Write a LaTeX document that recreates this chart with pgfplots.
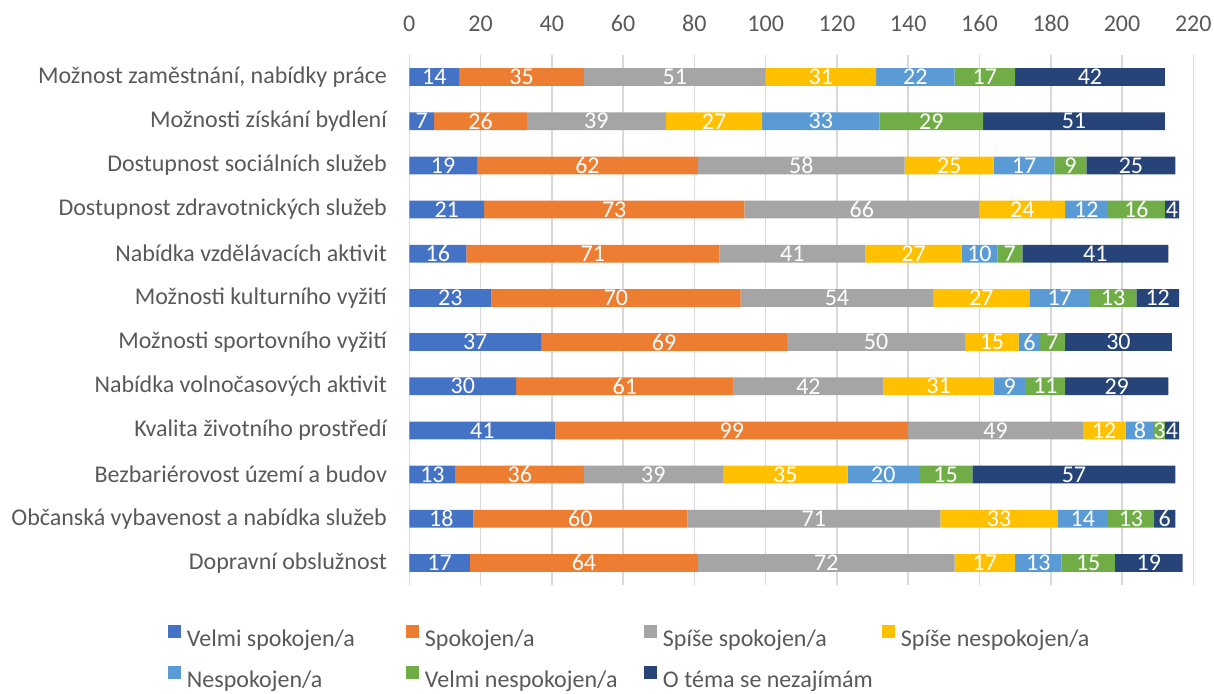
\documentclass[border=0pt]{standalone}
\usepackage{pgfplots}
\pgfplotsset{compat=1.18}
\usepackage{pgfplotstable}
\usepackage{fontspec}
\setmainfont{Carlito}
\definecolor{c1}{HTML}{4472C4}
\definecolor{c2}{HTML}{ED7D31}
\definecolor{c3}{HTML}{A5A5A5}
\definecolor{c4}{HTML}{FFC000}
\definecolor{c5}{HTML}{5B9BD5}
\definecolor{c6}{HTML}{70AD47}
\definecolor{c7}{HTML}{264478}
\definecolor{txt}{HTML}{595959}
\definecolor{grd}{HTML}{D9D9D9}
\pgfplotstableread{
y s1 s2 s3 s4 s5 s6 s7
0 14 35 51 31 22 17 42
1 7 26 39 27 33 29 51
2 19 62 58 25 17 9 25
3 21 73 66 24 12 16 4
4 16 71 41 27 10 7 41
5 23 70 54 27 17 13 12
6 37 69 50 15 6 7 30
7 30 61 42 31 9 11 29
8 41 99 49 12 8 3 4
9 13 36 39 35 20 15 57
10 18 60 71 33 14 13 6
11 17 64 72 17 13 15 19
}\data
\newcommand{\seg}[3]{\addplot[fill=#2, draw=none] table[x=#1, y=y, meta=#1] {\data}; \addlegendentry{\makebox[109.5pt][l]{\strut #3}}}
\begin{document}
\begin{tikzpicture}
\path[use as bounding box] (0,0) rectangle (607pt,347pt);
\begin{axis}[
  at={(204.65pt,54.5pt)}, anchor=south west,
  scale only axis, width=392pt, height=265pt,
  xbar stacked, bar width=8.85pt,
  xmin=0, xmax=220, ymin=-0.5, ymax=11.5, y dir=reverse,
  xtick={0,20,...,220}, xticklabel pos=upper,
  ytick={0,...,11},
  yticklabels={{Možnost zaměstnání, nabídky práce},{Možnosti získání bydlení},{Dostupnost sociálních služeb},{Dostupnost zdravotnických služeb},{Nabídka vzdělávacích aktivit},{Možnosti kulturního vyžití},{Možnosti sportovního vyžití},{Nabídka volnočasových aktivit},{Kvalita životního prostředí},{Bezbariérovost území a budov},{Občanská vybavenost a nabídka služeb},{Dopravní obslužnost}},
  axis line style={draw=none}, major tick length=0pt, tick style={draw=none},
  xmajorgrids, grid style={draw=grd, line width=0.75pt},
  /pgf/number format/assume math mode=true,
  xticklabel style={font=\fontsize{12}{14.4}\selectfont, text=txt, anchor=base, inner sep=0pt, yshift=11.6pt},
  yticklabel style={font=\fontsize{12}{14.4}\selectfont, text=txt, anchor=east, inner sep=0pt, xshift=-11pt},
  point meta=explicit,
  nodes near coords,
  every node near coord/.append style={font=\fontsize{12}{14.4}\selectfont, text=white, anchor=center, inner sep=0pt},
  legend columns=4,
  legend image code/.code={\fill[#1] (0pt,0pt) rectangle (6.5pt,6.5pt);},
  legend style={at={(-0.3078,-0.0757)}, anchor=north west, draw=none, fill=none, inner sep=0pt, outer sep=0pt, row sep=8.1pt, font=\fontsize{12}{14.4}\selectfont, text=txt, nodes={inner sep=0pt}, /tikz/every odd column/.append style={column sep=3pt}},
  clip=false,
]
\seg{s1}{c1}{Velmi spokojen/a}
\seg{s2}{c2}{Spokojen/a}
\seg{s3}{c3}{Spíše spokojen/a}
\seg{s4}{c4}{Spíše nespokojen/a}
\seg{s5}{c5}{Nespokojen/a}
\seg{s6}{c6}{Velmi nespokojen/a}
\seg{s7}{c7}{O téma se nezajímám}
\end{axis}
\end{tikzpicture}
\end{document}
